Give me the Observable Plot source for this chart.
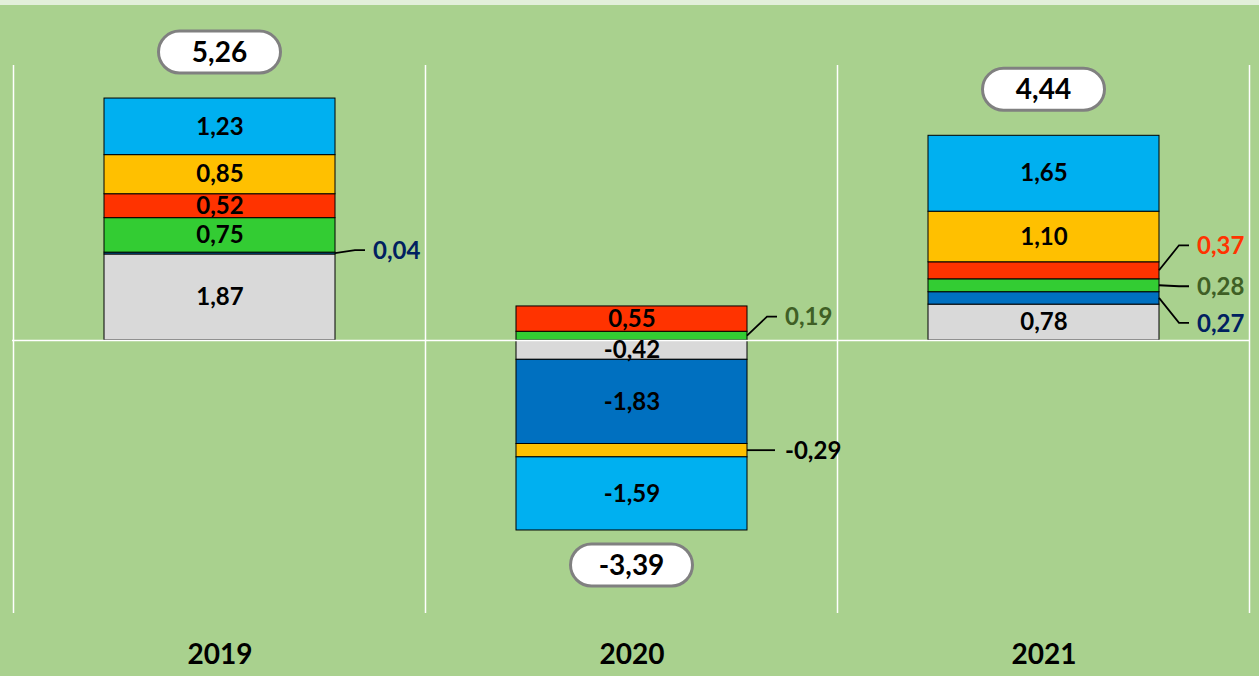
<!DOCTYPE html>
<html><head><meta charset="utf-8">
<script src="https://cdn.jsdelivr.net/npm/d3@7"></script>
<script src="https://cdn.jsdelivr.net/npm/@observablehq/plot@0.6"></script>
<style>
html,body{margin:0;padding:0;background:#a9d18e;overflow:hidden;}
#strip{height:5px;background:#e2efda;}
#chart svg{display:block;}
</style></head>
<body><div id="strip"></div><div id="chart"></div>
<script>
// ---- data ----
const years = ["2019", "2020", "2021"];
const seriesNames = ["S1", "S2", "S3", "S4", "S5", "S6"];
const s1Values = [1.87, -0.42, 0.78];
const s2Values = [0.04, -1.83, 0.27];
const s3Values = [0.75,  0.19, 0.28];
const s4Values = [0.52,  0.55, 0.37];
const s5Values = [0.85, -0.29, 1.10];
const s6Values = [1.23, -1.59, 1.65];
const totals = [5.26, -3.39, 4.44];

// ---- style config ----
const seriesColors = ["#d9d9d9", "#0070c0", "#33cc33", "#ff3300", "#ffc000", "#00b0f0"];
const outsideLabelColors = {S1: "#000", S2: "#002060", S3: "#3f5f25", S4: "#ff3300", S5: "#000", S6: "#000"};
const leaderNudge = {"2019|S2": -3, "2020|S3": -19, "2020|S5": 0, "2021|S4": -25, "2021|S3": 1, "2021|S2": 25};
const insideMin = 0.4;

const valuesBySeries = [s1Values, s2Values, s3Values, s4Values, s5Values, s6Values];
const rows = [];
years.forEach((yr, i) => seriesNames.forEach((s, j) => rows.push({year: yr, series: s, value: valuesBySeries[j][i]})));
const fmt = v => v.toFixed(2).replace(".", ",");

// stack extents (same as Plot's diverging stack) for overlay labels
const stacked = [];
const extents = {};
years.forEach(yr => {
  let pos = 0, neg = 0;
  rows.filter(r => r.year === yr).forEach(r => {
    let y1, y2;
    if (r.value >= 0) { y1 = pos; y2 = pos + r.value; pos = y2; } else { y1 = neg; y2 = neg + r.value; neg = y2; }
    stacked.push({...r, y1, y2});
  });
  extents[yr] = {pos, neg};
});

function overlay(index, scales, values, dims) {
  const {x, y} = scales;
  const bw = x.bandwidth(), step = x.step();
  const g = d3.create("svg:g");
  // vertical gridlines at band boundaries
  const gx = years.map(yr => x(yr) - (step - bw) / 2);
  gx.push(x(years[years.length - 1]) + bw + (step - bw) / 2);
  g.append("g").selectAll("line").data(gx).join("line")
    .attr("x1", d => d).attr("x2", d => d)
    .attr("y1", dims.marginTop + 1).attr("y2", dims.height - dims.marginBottom - 3)
    .attr("stroke", "white").attr("stroke-width", 1.5);
  // outside labels with leader lines
  stacked.filter(d => Math.abs(d.value) < insideMin).forEach(d => {
    const xr = x(d.year) + bw;
    const cy = y((d.y1 + d.y2) / 2);
    const nudge = leaderNudge[d.year + "|" + d.series] || 0;
    const ty = cy + nudge;
    const path = nudge !== 0 ? `M${xr},${cy}L${xr + 20},${ty}H${xr + 30}` : `M${xr},${cy}H${xr + 28}`;
    g.append("path").attr("d", path).attr("fill", "none").attr("stroke", "black").attr("stroke-width", 1.8);
    g.append("text").attr("x", xr + 38).attr("y", ty).attr("dy", "0.36em").attr("text-anchor", "start")
      .attr("font-size", 24).attr("font-weight", "bold").attr("fill", outsideLabelColors[d.series])
      .text(fmt(d.value));
  });
  // total pills
  years.forEach((yr, i) => {
    const cx = x(yr) + bw / 2;
    const cy = totals[i] >= 0 ? y(extents[yr].pos) - 46 : y(extents[yr].neg) + 35;
    g.append("rect").attr("x", cx - 61).attr("y", cy - 21).attr("width", 122).attr("height", 42)
      .attr("rx", 21).attr("fill", "white").attr("stroke", "#808080").attr("stroke-width", 3);
    g.append("text").attr("x", cx).attr("y", cy).attr("dy", "0.36em").attr("text-anchor", "middle")
      .attr("font-size", 28).attr("font-weight", "bold").attr("fill", "black").text(fmt(totals[i]));
  });
  return g.node();
}

const chart = Plot.plot({
  width: 1259, height: 671,
  marginTop: 59, marginBottom: 60, marginLeft: 12, marginRight: 9,
  style: {background: "transparent", fontFamily: "Lato, 'Open Sans', sans-serif"},
  x: {domain: years, paddingInner: 0.44, paddingOuter: 0.22, axis: null},
  y: {domain: [-6, 6], axis: null},
  color: {type: "ordinal", domain: seriesNames, range: seriesColors},
  marks: [
    Plot.barY(rows, {x: "year", y: "value", fill: "series", stroke: "black", strokeWidth: 1}),
    Plot.ruleY([0], {stroke: "white", strokeWidth: 1.5}),
    Plot.text(rows, Plot.stackY({x: "year", y: "value",
      text: d => Math.abs(d.value) >= insideMin ? fmt(d.value) : null,
      fontSize: 24, fontWeight: "bold", fill: "black"})),
    Plot.text(years, {x: d => d, text: d => d, frameAnchor: "bottom", dy: 47,
      fontSize: 28, fontWeight: "bold", fill: "black"}),
    overlay
  ]
});
document.getElementById("chart").appendChild(chart);
</script>
</body></html>
